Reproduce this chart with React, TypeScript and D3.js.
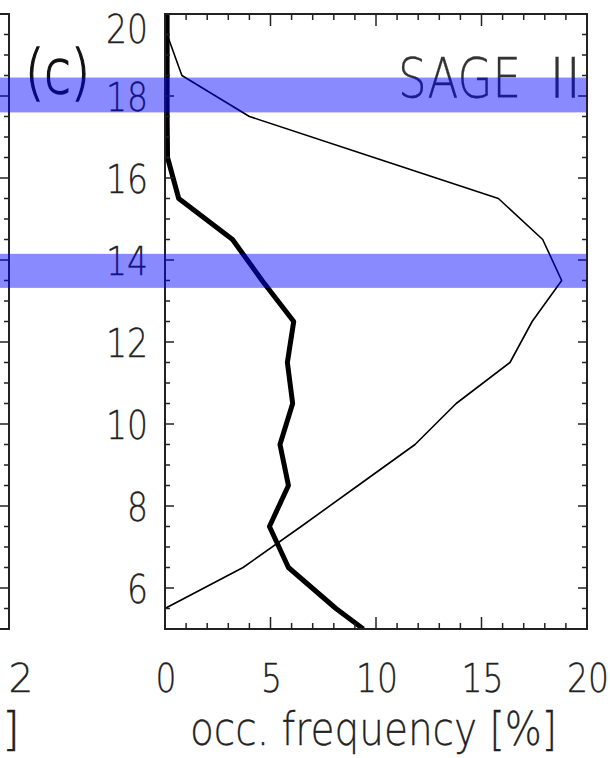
import React from "react";
import * as d3 from "d3";

// ---- data ----
const altitudes = [5.0, 5.5, 6.5, 7.5, 8.5, 9.5, 10.5, 11.5, 12.5, 13.5, 14.5, 15.5, 16.5, 17.5, 18.5, 19.5, 20.0];
const thickSeries = [9.4, 8.1, 5.85, 4.95, 5.85, 5.45, 6.05, 5.8, 6.1, 4.6, 3.2, 0.65, 0.12, 0.1, 0.1, 0.1, 0.1];
const thinSeries = [0, 0, 3.7, 6.45, 9.15, 11.85, 13.8, 16.35, 17.4, 18.8, 17.9, 15.8, 9.9, 4.0, 0.8, 0.1, 0];
const bands: [number, number][] = [[17.6, 18.45], [13.32, 14.15]];
const xTicks = [0, 5, 10, 15, 20];
const yTicks = [6, 8, 10, 12, 14, 16, 18, 20];
const xTitle = "occ. frequency [%]";
const panelLabel = "(c)";
const instrument = ["SAGE", "II"];
const prevPanelTick = "2";
const prevPanelTitleEnd = "m]";

const W = 610, H = 758;
const L = 165, R = 587, T = 14, B = 629;
const PREV_R = 9;
const FONT = "DejaVu Sans";
const TXT = "#222";

export default function App() {
  const x = d3.scaleLinear().domain([0, 20]).range([L, R]);
  const y = d3.scaleLinear().domain([5, 20]).range([B, T]);
  const line = d3.line<[number, number]>().x(d => x(d[0])).y(d => y(d[1]));
  const thick = line(altitudes.map((a, i) => [thickSeries[i], a]))!;
  const thin = line(altitudes.map((a, i) => [thinSeries[i], a]))!;

  const xMinor = d3.range(0, 20.01, 1);
  const yMinor = d3.range(5, 20.01, 0.5);
  const isMajorX = (v: number) => Math.abs(v % 5) < 1e-6;
  const isMajorY = (v: number) => Math.abs(v % 2) < 1e-6;

  return (
    <svg width={W} height={H} style={{ position: "absolute", left: 0, top: 0, background: "#fff" }}>
      <rect x={0} y={0} width={W} height={H} fill="#fff" />
      <defs>
        <clipPath id="plot"><rect x={L} y={T} width={R - L} height={B - T} /></clipPath>
      </defs>

      {/* previous panel edge */}
      <line x1={PREV_R} x2={PREV_R} y1={T} y2={B} stroke="#222" strokeWidth={2} />
      <line x1={0} x2={PREV_R + 1} y1={T} y2={T} stroke="#222" strokeWidth={2} />
      <line x1={0} x2={PREV_R + 1} y1={B} y2={B} stroke="#222" strokeWidth={2} />
      {yMinor.map(v => (
        <line key={"p" + v} x1={PREV_R} x2={PREV_R - (isMajorY(v) ? 9 : 5)} y1={y(v)} y2={y(v)} stroke="#222" strokeWidth={1.5} />
      ))}
      <text x={21} y={692} textAnchor="middle" fontFamily={FONT} fontWeight={200} fontSize={39} fill={TXT} stroke={TXT} strokeWidth={0.3}>{prevPanelTick}</text>
      <text x={20} y={745} textAnchor="end" fontFamily={FONT} fontWeight={200} fontSize={46} fill={TXT} stroke={TXT} strokeWidth={0.3}>{prevPanelTitleEnd}</text>

      {/* panel label & instrument */}
      <text x={25} y={93} fontFamily={FONT} fontWeight={200} fontSize={60} fill="#111" stroke="#111" strokeWidth={1.4} textLength={65} lengthAdjust="spacingAndGlyphs">{panelLabel}</text>
      <text x={398} y={97} fontFamily={FONT} fontWeight={200} fontSize={55} fill="#333" stroke="#333" strokeWidth={0.3} textLength={123} lengthAdjust="spacingAndGlyphs">{instrument[0]}</text>
      <text x={549} y={97} fontFamily={FONT} fontWeight={200} fontSize={55} fill="#333" stroke="#333" strokeWidth={0.3}>{instrument[1]}</text>

      {/* data lines */}
      <g clipPath="url(#plot)">
        <path d={thin} fill="none" stroke="#000" strokeWidth={1.6} strokeLinejoin="round" />
        <path d={thick} fill="none" stroke="#000" strokeWidth={5} strokeLinejoin="round" />
      </g>

      {/* axes frame */}
      <rect x={L} y={T} width={R - L} height={B - T} fill="none" stroke="#222" strokeWidth={2} />
      {xMinor.map(v => {
        const len = isMajorX(v) ? 12 : 6;
        return (
          <g key={"x" + v}>
            <line x1={x(v)} x2={x(v)} y1={B} y2={B - len} stroke="#222" strokeWidth={1.5} />
            <line x1={x(v)} x2={x(v)} y1={T} y2={T + len} stroke="#222" strokeWidth={1.5} />
          </g>
        );
      })}
      {yMinor.map(v => {
        const len = isMajorY(v) ? 9 : 5;
        return (
          <g key={"y" + v}>
            <line x1={L} x2={L + len} y1={y(v)} y2={y(v)} stroke="#222" strokeWidth={1.5} />
            <line x1={R} x2={R - len} y1={y(v)} y2={y(v)} stroke="#222" strokeWidth={1.5} />
          </g>
        );
      })}

      {/* tick labels */}
      {xTicks.map(v => (
        <text key={"xl" + v} x={x(v) + 1} y={692} textAnchor="middle" fontFamily={FONT} fontWeight={200} fontSize={39} fill={TXT} stroke={TXT} strokeWidth={0.3}
          textLength={String(v).length * 21} lengthAdjust="spacingAndGlyphs">{v}</text>
      ))}
      {yTicks.map(v => (
        <text key={"yl" + v} x={148} y={Math.max(y(v) + 15, 43)} textAnchor="end" fontFamily={FONT} fontWeight={200} fontSize={39} fill={TXT} stroke={TXT} strokeWidth={0.3}
          textLength={String(v).length * 21} lengthAdjust="spacingAndGlyphs">{v}</text>
      ))}
      <text x={190} y={745} fontFamily={FONT} fontWeight={200} fontSize={46} fill={TXT} stroke={TXT} strokeWidth={0.3} textLength={367} lengthAdjust="spacingAndGlyphs">{xTitle}</text>

      {/* translucent blue bands on top */}
      {bands.map(([lo, hi], i) => (
        <rect key={"b" + i} x={0} width={R - 1} y={y(hi)} height={y(lo) - y(hi)} fill="#0000ff" fillOpacity={0.46} />
      ))}
    </svg>
  );
}
